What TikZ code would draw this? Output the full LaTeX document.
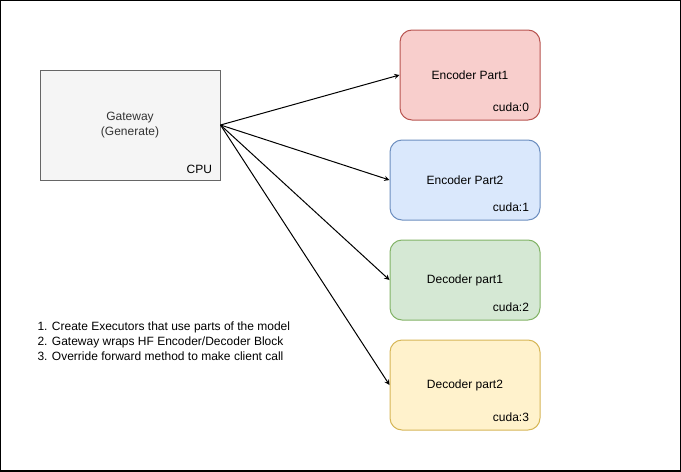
\documentclass[tikz,border=0pt]{standalone}
\usepackage{fontspec}
\setmainfont{Liberation Sans}
\usetikzlibrary{calc}
\definecolor{gwfill}{HTML}{F5F5F5}
\definecolor{gwline}{HTML}{666666}
\definecolor{gwtext}{HTML}{333333}
\definecolor{redfill}{HTML}{F8CECC}
\definecolor{redline}{HTML}{B85450}
\definecolor{bluefill}{HTML}{DAE8FC}
\definecolor{blueline}{HTML}{6C8EBF}
\definecolor{greenfill}{HTML}{D5E8D4}
\definecolor{greenline}{HTML}{82B366}
\definecolor{yellowfill}{HTML}{FFF2CC}
\definecolor{yellowline}{HTML}{D6B656}
\newcommand\gpux{-11}
\newcommand\gpuy{-8}

\begin{document}
\begin{tikzpicture}[>=stealth, x=0.75pt, y=-0.75pt, line width=0.75pt]
	\tikzstyle{every node}=[font=\fontsize{9}{11.25}\selectfont]
	\tikzstyle{part}=[draw, rounded corners=9pt, inner sep=0pt, minimum width=112.5pt, minimum height=60pt]
	\tikzstyle{dev}=[anchor=south east, inner sep=0pt]
	
	%frame
	\useasboundingbox (0,0) rectangle (681,471);
	\draw[line width=1.2pt] (0,0) rectangle (681,471);
	
	%gateway
	\node[draw=gwline, fill=gwfill, text=gwtext, align=center, minimum width=135pt, minimum height=82.5pt] (G) at (130,125) {Gateway\\(Generate)};
	\node[dev] (cpu) at ($(G.south east)+(-8,-6)$) {CPU};
	
	% encoders, decoders
	\node[part, draw=redline, fill=redfill, minimum width=105pt, minimum height=67.5pt] (E1) at (470,75) {Encoder Part1};
	\node[part, draw=blueline, fill=bluefill] (E2) at (465,180) {Encoder Part2};
	\node[part, draw=greenline, fill=greenfill] (D1) at (465,280) {Decoder part1};
	\node[part, draw=yellowline, fill=yellowfill, minimum height=67.5pt] (D2) at (465,385) {Decoder part2};
	
	\node[dev] (c0) at ($(E1.south east)+(\gpux,\gpuy)$) {cuda:0};
	\node[dev] (c1) at ($(E2.south east)+(\gpux,\gpuy)$) {cuda:1};
	\node[dev] (c2) at ($(D1.south east)+(\gpux,\gpuy)$) {cuda:2};
	\node[dev] (c3) at ($(D2.south east)+(\gpux,\gpuy)$) {cuda:3};
	
	%calls
	\draw[->] (G.east) -- (E1.west);
	\draw[->] (G.east) -- (E2.west);
	\draw[->] (G.east) -- (D1.west);
	\draw[->] (G.east) -- (D2.west);
	
	%notes
	\node[anchor=west, align=left, inner sep=0pt] (notes) at (37,341) {1. Create Executors that use parts of the model\\2. Gateway wraps HF Encoder/Decoder Block\\3. Override forward method to make client call};
\end{tikzpicture}
\end{document}
